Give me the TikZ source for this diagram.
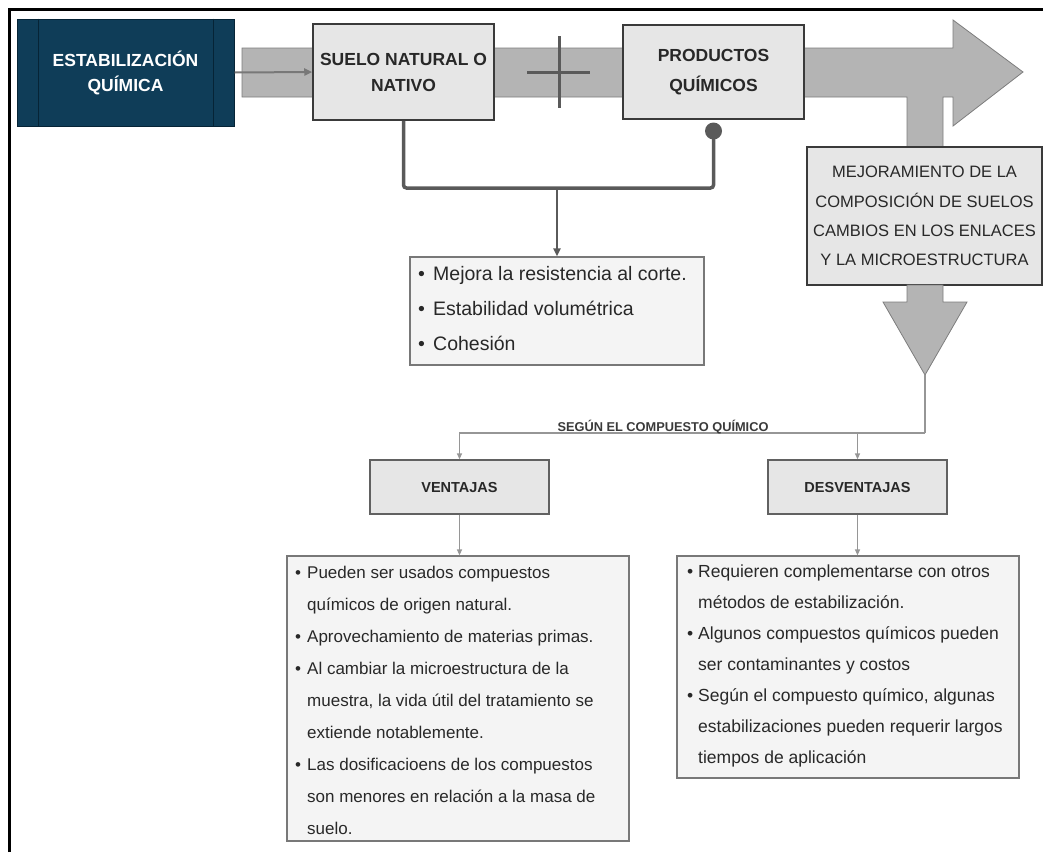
\documentclass[tikz,border=0pt]{standalone}
\usepackage{fontspec}
\setmainfont{Liberation Sans}
\usetikzlibrary{arrows.meta,calc}
\definecolor{navy}{RGB}{15,61,88}
\definecolor{navyline}{RGB}{6,36,54}
\definecolor{bandfill}{RGB}{180,180,180}
\definecolor{bandline}{RGB}{125,125,125}
\definecolor{boxfill}{RGB}{230,230,230}
\definecolor{listfill}{RGB}{244,244,244}
\definecolor{darkline}{RGB}{58,58,58}
\definecolor{midline}{RGB}{120,120,120}
\definecolor{txt}{RGB}{40,40,40}
\definecolor{conn}{RGB}{90,90,90}
\definecolor{thinconn}{RGB}{150,150,150}
\tikzset{
  darkbox/.style={draw=navyline, fill=navy, line width=1pt, text=white, align=center,
    font=\fontsize{17.5}{25}\selectfont\bfseries},
  titlebox/.style={draw=darkline, fill=boxfill, line width=1.5pt, text=txt, align=center,
    font=\fontsize{17.5}{26}\selectfont\bfseries},
  mejorbox/.style={draw=darkline, fill=boxfill, line width=1.5pt, text=txt, align=center,
    font=\fontsize{16.5}{29.3}\selectfont},
  listbox/.style={draw=midline, fill=listfill, line width=1.2pt},
  smallbox/.style={draw=darkline!80, fill=boxfill, line width=1.3pt, text=txt, align=center,
    font=\fontsize{14.5}{18}\selectfont\bfseries},
  listtxt/.style={inner sep=0pt, text=txt, anchor=north west},
  band/.style={fill=bandfill, draw=bandline, line width=0.8pt, line join=miter},
  bracket/.style={draw=conn, line width=3.5pt, rounded corners=3pt},
  medarrow/.style={draw=conn, line width=2pt, -{Triangle[length=8pt,width=7pt]}},
  inarrow/.style={draw=midline, line width=2pt, -{Triangle[length=8pt,width=7pt]}},
  thinline/.style={draw=thinconn, line width=1.3pt},
  thinarrow/.style={draw=thinconn, line width=1.3pt, -{Triangle[length=6pt,width=5pt]}},
  lbl/.style={text=darkline, font=\fontsize{12.8}{14}\selectfont\bfseries, inner sep=0pt, anchor=base}
}
\begin{document}
\begin{tikzpicture}[x=1pt,y=-1pt]
\useasboundingbox (0,0) rectangle (1043,852);
% frame
\draw[line width=3pt, black] (9.5,852) -- (9.5,9.5) -- (1043,9.5);

% big gray arrow band with stub going down
\draw[band] (242,48) -- (953,48) -- (953,20) -- (1023,72) -- (953,126) -- (953,97)
  -- (943,97) -- (943,147) -- (907,147) -- (907,97) -- (242,97) -- cycle;

% cross
\draw[draw=conn, line width=3pt] (559,36) -- (559,108);
\draw[draw=conn, line width=3pt] (527,72) -- (590,72);

% dark box
\node[darkbox, minimum width=217, minimum height=107] (estab) at (125.5,72.5) {ESTABILIZACIÓN\\QUÍMICA};
\draw[navyline, line width=1.5pt] ($(estab.north west)+(22,0)$) -- ($(estab.south west)+(22,0)$);
\draw[navyline, line width=1.5pt] ($(estab.north east)+(-21,0)$) -- ($(estab.south east)+(-21,0)$);

% title boxes
\node[titlebox, minimum width=181, minimum height=96] (suelo) at (403.5,72) {SUELO NATURAL O\\NATIVO};
\node[titlebox, minimum width=181, minimum height=94, font=\fontsize{17.5}{30}\selectfont\bfseries] (prod) at (713.5,72) {PRODUCTOS\\QUÍMICOS};

\draw[inarrow] (estab.east) -- (suelo.west);

% dot and bracket
\node[circle, fill=conn, inner sep=0pt, minimum size=17] (dot) at (713.5,131) {};
\coordinate (bl) at (403.5,188);
\coordinate (br) at (713.5,188);
\draw[bracket] (suelo.south) -- (bl) -- (br) -- (dot.center);

% properties box
\node[listbox, minimum width=294, minimum height=108] (props) at (557,311) {};
\draw[medarrow] (props.north |- bl) -- (props.north);
\node[listtxt, font=\fontsize{19.5}{35}\selectfont] (propstxt) at (418,256) {%
\begin{tabular}{@{}p{15pt}@{}l@{}}
•&Mejora la resistencia al corte.\\
•&Estabilidad volumétrica\\
•&Cohesión
\end{tabular}};

% mejoramiento box
\node[mejorbox, minimum width=235, minimum height=138] (mejor) at (924.5,216) {MEJORAMIENTO DE LA\\COMPOSICIÓN DE SUELOS\\CAMBIOS EN LOS ENLACES\\Y LA MICROESTRUCTURA};

% down arrow
\draw[band] (907,285) -- (943,285) -- (943,302) -- (967,302) -- (925,375) -- (883,302) -- (907,302) -- cycle;
\coordinate (tip) at (925,375);
\coordinate (split) at (925,433);

% ventajas / desventajas
\node[smallbox, minimum width=179, minimum height=54] (vent) at (459.5,487) {VENTAJAS};
\node[smallbox, minimum width=179, minimum height=54] (desv) at (857.5,487) {DESVENTAJAS};

\draw[thinline] (tip) -- (split);
\draw[thinarrow] (split) -| (vent.north);
\draw[thinarrow] (desv.north |- split) -- (desv.north);
\node[lbl] (lab) at (663,431) {SEGÚN EL COMPUESTO QUÍMICO};

% lists
\node[listbox, minimum width=342, minimum height=285] (vlist) at (458,698.5) {};
\node[listbox, minimum width=342, minimum height=222] (dlist) at (848,667) {};
\draw[thinarrow] (vent.south) -- (vent.south |- vlist.north);
\draw[thinarrow] (desv.south) -- (desv.south |- dlist.north);

\node[listtxt, font=\fontsize{17}{32}\selectfont] (vtxt) at (295,556) {%
\begin{tabular}{@{}p{12pt}@{}l@{}}
•&Pueden ser usados compuestos\\
&químicos de origen natural.\\
•&Aprovechamiento de materias primas.\\
•&Al cambiar la microestructura de la\\
&muestra, la vida útil del tratamiento se\\
&extiende notablemente.\\
•&Las dosificacioens de los compuestos\\
&son menores en relación a la masa de\\
&suelo.
\end{tabular}};

\node[listtxt, font=\fontsize{17.5}{31}\selectfont] (dtxt) at (687,556) {%
\begin{tabular}{@{}p{11pt}@{}l@{}}
•&Requieren complementarse con otros\\
&métodos de estabilización.\\
•&Algunos compuestos químicos pueden\\
&ser contaminantes y costos\\
•&Según el compuesto químico, algunas\\
&estabilizaciones pueden requerir largos\\
&tiempos de aplicación
\end{tabular}};
\end{tikzpicture}
\end{document}
